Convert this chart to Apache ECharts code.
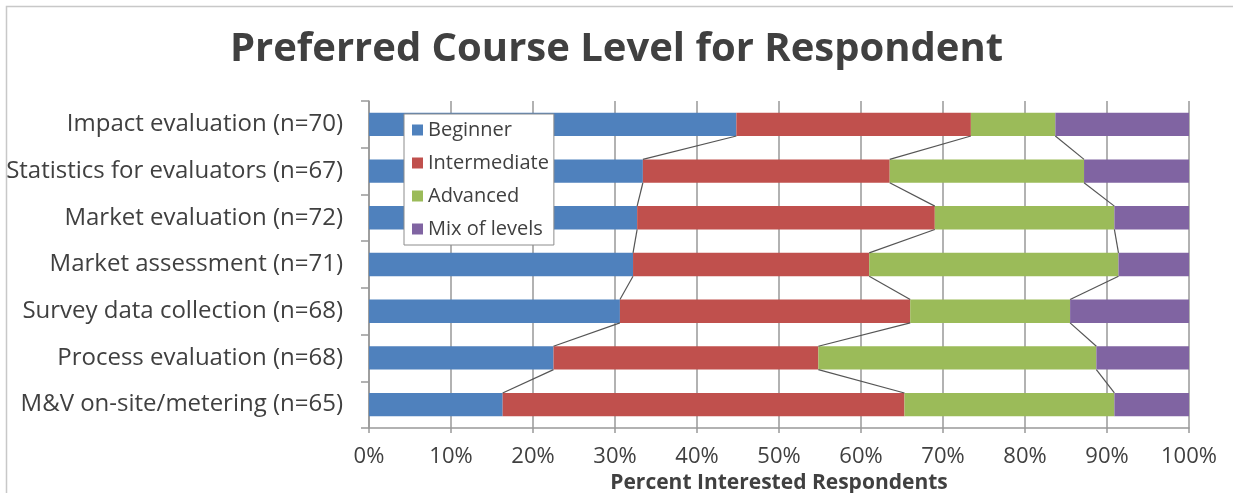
<!DOCTYPE html>
<html>
<head>
<meta charset="utf-8">
<script src="https://cdn.jsdelivr.net/npm/echarts@6/dist/echarts.min.js"></script>
<style>
  html, body { margin: 0; padding: 0; background: #fff; }
  #main { width: 1233px; height: 493px; }
</style>
</head>
<body>
<div id="main"></div>
<script>
// categories, top to bottom
var categories = [
  'Impact evaluation (n=70)',
  'Statistics for evaluators (n=67)',
  'Market evaluation (n=72)',
  'Market assessment (n=71)',
  'Survey data collection (n=68)',
  'Process evaluation (n=68)',
  'M&V on-site/metering (n=65)'
]
var levels = ['Beginner', 'Intermediate', 'Advanced', 'Mix of levels']
// percent of respondents per level
var beginner = [44.8, 33.4, 32.7, 32.2, 30.6, 22.5, 16.3]
var intermediate = [28.6, 30.1, 36.3, 28.8, 35.4, 32.3, 49.0]
var advanced = [10.3, 23.7, 21.9, 30.4, 19.5, 33.9, 25.6]
var mix = [16.3, 12.8, 9.1, 8.6, 14.5, 11.3, 9.1]
var xTicks = [0, 10, 20, 30, 40, 50, 60, 70, 80, 90, 100]

var colors = ['#4F81BD', '#C0504D', '#9BBB59', '#8064A2']
var font = 'Open Sans'

// series lines (Excel style) between the segment boundaries of adjacent bars
var stacks = [beginner, intermediate, advanced]
var linkData = []
var cum = categories.map(function () { return 0 })
var bounds = []
stacks.forEach(function (arr) {
  cum = cum.map(function (c, i) { return c + arr[i] })
  bounds.push(cum.slice())
})
bounds.forEach(function (b) {
  for (var i = 0; i < b.length - 1; i++) {
    linkData.push([b[i], i, b[i + 1], i + 1])
  }
})

var myChart = echarts.init(document.getElementById('main'))
var barSeries = [beginner, intermediate, advanced, mix].map(function (arr, k) {
  return {
    name: levels[k],
    type: 'bar',
    stack: 'total',
    barWidth: '50%',
    itemStyle: { color: colors[k] },
    data: arr
  }
})

var option = {
  animation: false,
  title: {
    text: 'Preferred Course Level for Respondent',
    left: 'center',
    top: 25,
    textStyle: {
      fontFamily: font,
      fontWeight: 'bold',
      fontSize: 40,
      color: '#404040'
    }
  },
  graphic: [
    {
      type: 'rect',
      shape: { x: 6.5, y: 6.5, width: 1400, height: 600 },
      style: { fill: 'none', stroke: '#c8c8c8', lineWidth: 1.5 },
      silent: true
    }
  ],
  legend: {
    data: levels,
    orient: 'vertical',
    left: 404,
    top: 114,
    icon: 'rect',
    itemWidth: 11,
    itemHeight: 11,
    itemGap: 11,
    padding: [5, 5, 5, 8],
    backgroundColor: '#fff',
    borderColor: '#8c8c8c',
    borderWidth: 1,
    borderRadius: 0,
    textStyle: {
      fontFamily: font,
      fontSize: 20,
      lineHeight: 22,
      color: '#404040'
    }
  },
  grid: {
    left: 369,
    right: 44,
    top: 101,
    bottom: 65,
    containLabel: false,
    outerBoundsMode: 'none'
  },
  xAxis: {
    type: 'value',
    min: 0,
    max: 100,
    interval: 10,
    name: 'Percent Interested Respondents',
    nameLocation: 'middle',
    nameGap: 44,
    nameTextStyle: {
      fontFamily: font,
      fontWeight: 'bold',
      fontSize: 21,
      color: '#404040'
    },
    axisLine: { show: true, lineStyle: { color: '#999', width: 1.5 } },
    axisTick: { show: true, length: 5, lineStyle: { color: '#999', width: 1.5 } },
    splitLine: { show: true, lineStyle: { color: '#999', width: 1.5 } },
    axisLabel: {
      margin: 18,
      fontFamily: font,
      fontSize: 22,
      color: '#404040',
      formatter: function (v) { return xTicks.indexOf(v) >= 0 ? v + '%' : '' }
    }
  },
  yAxis: {
    type: 'category',
    inverse: true,
    data: categories,
    axisLine: { show: true, lineStyle: { color: '#999', width: 1.5 } },
    axisTick: { show: true, length: 8, lineStyle: { color: '#999', width: 1.5 } },
    splitLine: { show: false },
    axisLabel: {
      margin: 26,
      fontFamily: font,
      fontSize: 24,
      color: '#404040'
    }
  },
  series: barSeries.concat([
    {
      name: 'links',
      type: 'custom',
      silent: true,
      z: 3,
      encode: { x: [0, 2], y: [1, 3] },
      renderItem: function (params, api) {
        var p1 = api.coord([api.value(0), api.value(1)])
        var p2 = api.coord([api.value(2), api.value(3)])
        var half = api.size([0, 1])[1] * 0.25
        return {
          type: 'line',
          shape: { x1: p1[0], y1: p1[1] + half, x2: p2[0], y2: p2[1] - half },
          style: { stroke: '#555', lineWidth: 1.2 }
        }
      },
      data: linkData
    }
  ])
}
option && myChart.setOption(option)
</script>
</body>
</html>
